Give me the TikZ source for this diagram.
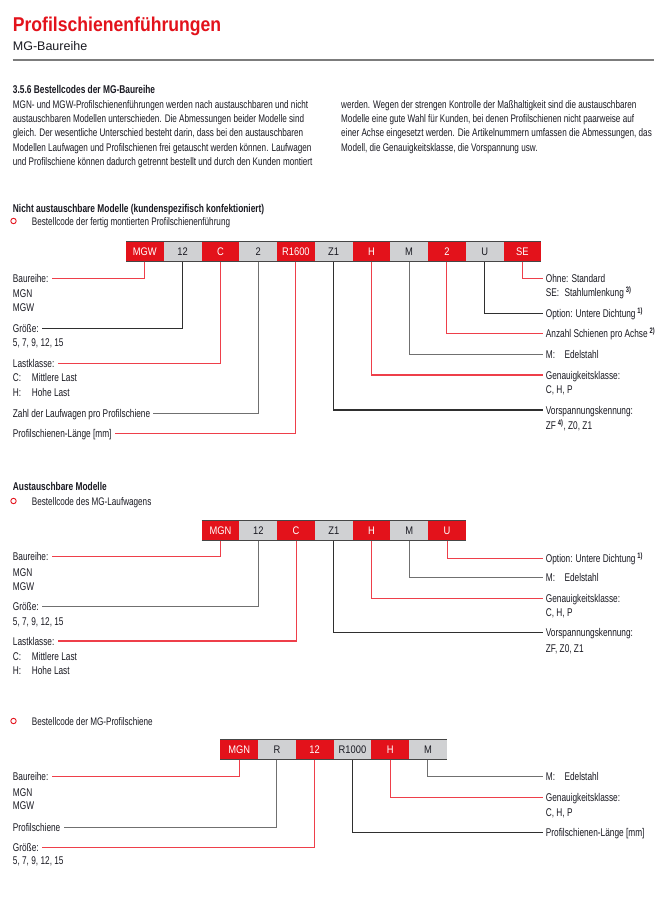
\documentclass[tikz,border=0pt]{standalone}
\usepackage{fontspec}
\setmainfont[FakeStretch=0.74]{Liberation Sans}
\newfontfamily\cellfont[FakeStretch=0.85]{Liberation Sans}
\newfontfamily\headfont[FakeStretch=0.88]{Liberation Sans}
\newfontfamily\subheadfont{Liberation Sans}
\definecolor{hwred}{HTML}{E3121B}
\definecolor{linered}{HTML}{EE3F4A}
\definecolor{cellgray}{HTML}{D0D1D3}
\definecolor{txt}{HTML}{1A1A22}
\definecolor{darkline}{HTML}{2F2F2F}
\definecolor{midline}{HTML}{707070}
\definecolor{rulegray}{HTML}{7C7C7C}

\begin{document}
\begin{tikzpicture}[x=1pt,y=-1pt,
  cell/.style={anchor=north west,minimum width=37.75pt,minimum height=20.5pt,inner sep=0pt,outer sep=0pt,text height=7.9pt,text depth=0pt,font=\cellfont\fontsize{11}{12}\selectfont},
  redcell/.style={cell,fill=hwred,text=white},
  graycell/.style={cell,fill=cellgray,text=txt},
  lbl/.style={anchor=west,inner xsep=3pt,inner ysep=0pt,text height=8pt,text depth=0pt,text=txt,font=\fontsize{11.2}{13}\selectfont},
  para/.style={lbl,font=\fontsize{11}{13}\selectfont},
  head/.style={lbl,font=\bfseries\fontsize{11.3}{13}\selectfont},
  bullet/.style={circle,draw=hwred,line width=0.9pt,minimum size=5.4pt,inner sep=0pt},
  redln/.style={draw=linered,line width=1.1pt},
  darkln/.style={draw=darkline,line width=1.1pt},
  grayln/.style={draw=midline,line width=1.1pt},
  rowedge/.style={draw=gray!55!black,line width=0.8pt}]
  \useasboundingbox (0,0) rectangle (661,923);
  \fill[white] (0,0) rectangle (661,923);

  \node[anchor=west,inner sep=0pt,text height=14.3pt,text depth=0pt,text=hwred,font=\headfont\bfseries\fontsize{20}{24}\selectfont] (title) at (12.7,24.2) {Profilschienenführungen};
  \node[anchor=west,inner sep=0pt,text height=9pt,text depth=0pt,text=txt,font=\subheadfont\fontsize{12.5}{15}\selectfont] (subtitle) at (12.7,46.2) {MG-Baureihe};
  \draw[rulegray,line width=1.6pt] (12.7,60.3) -- (654,60.3);

  \node[head] (intro) at (9.7,90) {3.5.6 Bestellcodes der MG-Baureihe};
  \foreach \t [count=\i from 0] in {{MGN- und MGW-Profilschienenführungen werden nach austauschbaren und nicht},
    {austauschbaren Modellen unterschieden. Die Abmessungen beider Modelle sind},
    {gleich. Der wesentliche Unterschied besteht darin, dass bei den austauschbaren},
    {Modellen Laufwagen und Profilschienen frei getauscht werden können. Laufwagen},
    {und Profilschiene können dadurch getrennt bestellt und durch den Kunden montiert}}{
    \node[para] (pl\i) at (9.7,104.5+\i*14.2) {\t};
  }
  \foreach \t [count=\i from 0] in {{werden. Wegen der strengen Kontrolle der Maßhaltigkeit sind die austauschbaren},
    {Modelle eine gute Wahl für Kunden, bei denen Profilschienen nicht paarweise auf},
    {einer Achse eingesetzt werden. Die Artikelnummern umfassen die Abmessungen, das},
    {Modell, die Genauigkeitsklasse, die Vorspannung usw.}}{
    \node[para] (pr\i) at (338,104.5+\i*14.2) {\t};
  }

  \node[head] (secA) at (9.7,208.3) {Nicht austauschbare Modelle (kundenspezifisch konfektioniert)};
  \node[bullet] (dotA) at (13.5,221) {};
  \node[para] (subA) at (28.7,221) {Bestellcode der fertig montierten Profilschienenführung};

  \foreach \n/\t/\s [count=\i from 0] in {aMGW/MGW/redcell,a12/12/graycell,aC/C/redcell,aZahl/2/graycell,aLen/R1600/redcell,aVor/Z1/graycell,aGen/H/redcell,aMat/M/graycell,aAnz/2/redcell,aOpt/U/graycell,aSE/SE/redcell}{
    \node[\s] (\n) at (126+\i*37.75,241) {\t};
  }
  \draw[rowedge] (aMGW.north west) -- (aSE.north east) (aMGW.south west) -- (aSE.south east);

  \node[lbl] (aLbau) at (9.7,278.3) {Baureihe:};
  \node[lbl] (aLmgn) at (9.7,293) {MGN};
  \node[lbl] (aLmgw) at (9.7,307) {MGW};
  \node[lbl] (aLgr) at (9.7,328.3) {Größe:};
  \node[lbl] (aLgrv) at (9.7,342.7) {5, 7, 9, 12, 15};
  \node[lbl] (aLlast) at (9.7,363.3) {Lastklasse:};
  \node[lbl] (aLc) at (9.7,377.7) {\makebox[19pt][l]{C:}Mittlere Last};
  \node[lbl] (aLh) at (9.7,392.7) {\makebox[19pt][l]{H:}Hohe Last};
  \node[lbl] (aLzahl) at (9.7,413.3) {Zahl der Laufwagen pro Profilschiene};
  \node[lbl] (aLlen) at (9.7,433.3) {Profilschienen-Länge [mm]};

  \node[lbl] (aRohne) at (542.7,278.3) {Ohne: Standard};
  \node[lbl] (aRse) at (542.7,292.7) {\makebox[18.6pt][l]{SE:}Stahlumlenkung\,\textsuperscript{\bfseries 3)}};
  \node[lbl] (aRopt) at (542.7,313.3) {Option: Untere Dichtung\,\textsuperscript{\bfseries 1)}};
  \node[lbl] (aRanz) at (542.7,333.3) {Anzahl Schienen pro Achse\,\textsuperscript{\bfseries 2)}};
  \node[lbl] (aRmat) at (542.7,354.3) {\makebox[18.6pt][l]{M:}Edelstahl};
  \node[lbl] (aRgen) at (542.7,375) {Genauigkeitsklasse:};
  \node[lbl] (aRgenv) at (542.7,389.3) {C, H, P};
  \node[lbl] (aRvor) at (542.7,410) {Vorspannungskennung:};
  \node[lbl] (aRvorv) at (542.7,425) {ZF\,\textsuperscript{\bfseries 4)}, Z0, Z1};

  \draw[redln] (aMGW.south) |- (aLbau.east);
  \draw[darkln] (a12.south) |- (aLgr.east);
  \draw[redln] (aC.south) |- (aLlast.east);
  \draw[grayln] (aZahl.south) |- (aLzahl.east);
  \draw[redln] (aLen.south) |- (aLlen.east);
  \draw[darkln] (aVor.south) |- (aRvor.west);
  \draw[redln] (aGen.south) |- (aRgen.west);
  \draw[grayln] (aMat.south) |- (aRmat.west);
  \draw[redln] (aAnz.south) |- (aRanz.west);
  \draw[darkln] (aOpt.south) |- (aRopt.west);
  \draw[redln] (aSE.south) |- (aRohne.west);

  \node[head] (secB) at (9.7,486.7) {Austauschbare Modelle};
  \node[bullet] (dotB) at (13.5,501) {};
  \node[para] (subB) at (28.7,501) {Bestellcode des MG-Laufwagens};

  \foreach \n/\t/\s [count=\i from 0] in {bMGN/MGN/redcell,b12/12/graycell,bC/C/redcell,bVor/Z1/graycell,bGen/H/redcell,bMat/M/graycell,bOpt/U/redcell}{
    \node[\s] (\n) at (201.7+\i*37.75,520) {\t};
  }
  \draw[rowedge] (bMGN.north west) -- (bOpt.north east) (bMGN.south west) -- (bOpt.south east);

  \node[lbl] (bLbau) at (9.7,556.7) {Baureihe:};
  \node[lbl] (bLmgn) at (9.7,572.3) {MGN};
  \node[lbl] (bLmgw) at (9.7,586) {MGW};
  \node[lbl] (bLgr) at (9.7,606.7) {Größe:};
  \node[lbl] (bLgrv) at (9.7,621.7) {5, 7, 9, 12, 15};
  \node[lbl] (bLlast) at (9.7,641) {Lastklasse:};
  \node[lbl] (bLc) at (9.7,656.7) {\makebox[19pt][l]{C:}Mittlere Last};
  \node[lbl] (bLh) at (9.7,670.7) {\makebox[19pt][l]{H:}Hohe Last};

  \node[lbl] (bRopt) at (542.7,558.3) {Option: Untere Dichtung\,\textsuperscript{\bfseries 1)}};
  \node[lbl] (bRmat) at (542.7,577.3) {\makebox[18.6pt][l]{M:}Edelstahl};
  \node[lbl] (bRgen) at (542.7,598.3) {Genauigkeitsklasse:};
  \node[lbl] (bRgenv) at (542.7,612.7) {C, H, P};
  \node[lbl] (bRvor) at (542.7,632.7) {Vorspannungskennung:};
  \node[lbl] (bRvorv) at (542.7,648.3) {ZF, Z0, Z1};

  \draw[redln] (bMGN.south) |- (bLbau.east);
  \draw[grayln] (b12.south) |- (bLgr.east);
  \draw[redln] (bC.south) |- (bLlast.east);
  \draw[darkln] (bVor.south) |- (bRvor.west);
  \draw[redln] (bGen.south) |- (bRgen.west);
  \draw[grayln] (bMat.south) |- (bRmat.west);
  \draw[redln] (bOpt.south) |- (bRopt.west);

  \node[bullet] (dotC) at (13.5,721) {};
  \node[para] (subC) at (28.7,721) {Bestellcode der MG-Profilschiene};

  \foreach \n/\t/\s [count=\i from 0] in {cMGN/MGN/redcell,cR/R/graycell,c12/12/redcell,cLen/R1000/graycell,cGen/H/redcell,cMat/M/graycell}{
    \node[\s] (\n) at (220.3+\i*37.75,739.3) {\t};
  }
  \draw[rowedge] (cMGN.north west) -- (cMat.north east) (cMGN.south west) -- (cMat.south east);

  \node[lbl] (cLbau) at (9.7,776.7) {Baureihe:};
  \node[lbl] (cLmgn) at (9.7,792.3) {MGN};
  \node[lbl] (cLmgw) at (9.7,805.7) {MGW};
  \node[lbl] (cLprof) at (9.7,827.3) {Profilschiene};
  \node[lbl] (cLgr) at (9.7,847.3) {Größe:};
  \node[lbl] (cLgrv) at (9.7,860.7) {5, 7, 9, 12, 15};

  \node[lbl] (cRmat) at (542.7,776.7) {\makebox[18.6pt][l]{M:}Edelstahl};
  \node[lbl] (cRgen) at (542.7,797.3) {Genauigkeitsklasse:};
  \node[lbl] (cRgenv) at (542.7,812.3) {C, H, P};
  \node[lbl] (cRlen) at (542.7,832.3) {Profilschienen-Länge [mm]};

  \draw[redln] (cMGN.south) |- (cLbau.east);
  \draw[grayln] (cR.south) |- (cLprof.east);
  \draw[redln] (c12.south) |- (cLgr.east);
  \draw[darkln] (cLen.south) |- (cRlen.west);
  \draw[redln] (cGen.south) |- (cRgen.west);
  \draw[grayln] (cMat.south) |- (cRmat.west);
\end{tikzpicture}
\end{document}
